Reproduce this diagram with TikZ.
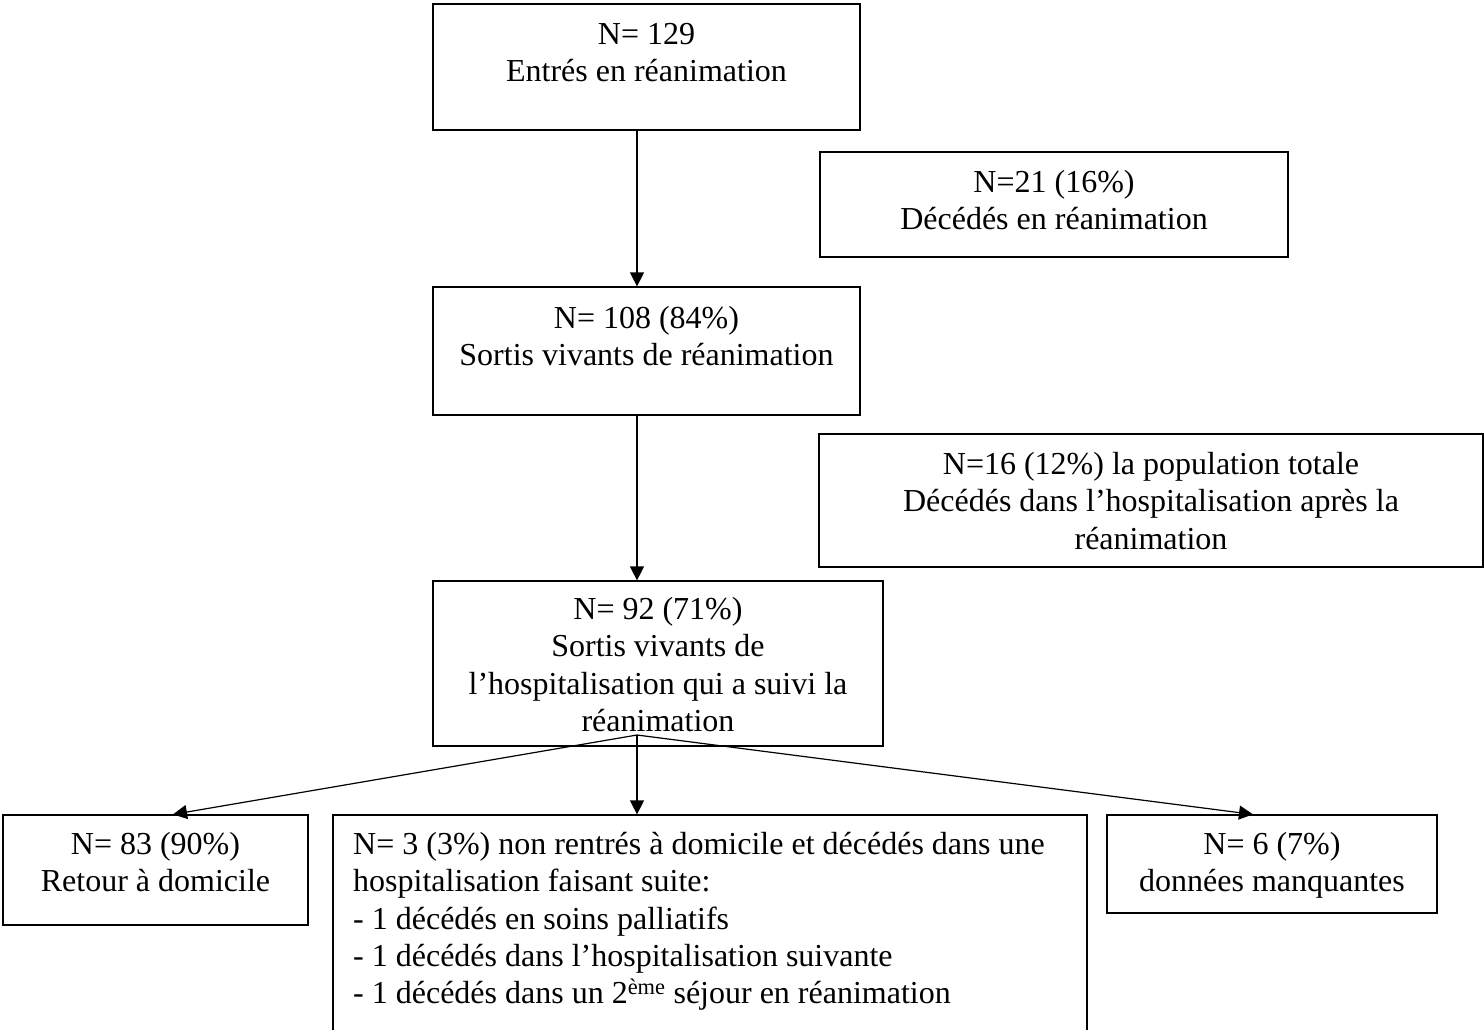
\documentclass[tikz,border=0pt]{standalone}
\usepackage{fontspec}
\setmainfont{Liberation Serif}
\usetikzlibrary{arrows.meta}
\begin{document}
\begin{tikzpicture}[x=1pt,y=-1pt,
  box/.style={draw=black, line width=1.2pt, inner sep=0pt, rectangle},
  txt/.style={font=\fontsize{32}{37.2}\selectfont, align=center, inner sep=0pt, anchor=north},
  arr/.style={line width=1.2pt, -{Triangle[length=14pt,width=14pt]}}]
\useasboundingbox (0,0) rectangle (1484,1030);
% boxes
\node[box, minimum width=427pt, minimum height=126pt] (b1) at (646.5,67) {};
\node[box, minimum width=468pt, minimum height=105pt] (b2) at (1054,204.5) {};
\node[box, minimum width=427pt, minimum height=128pt] (b3) at (646.5,351) {};
\node[box, minimum width=664pt, minimum height=133pt] (b4) at (1151,500.5) {};
\node[box, minimum width=450pt, minimum height=165pt] (b5) at (658,663.5) {};
\node[box, minimum width=305pt, minimum height=110pt] (b6) at (155.5,870) {};
\node[box, minimum width=754pt, minimum height=230pt] (b7) at (710,930) {};
\node[box, minimum width=330pt, minimum height=98pt] (b8) at (1272,864) {};
% texts
\node[txt] (t1) at (646.5,18.5) {\strut N= 129\\Entrés en réanimation};
\node[txt] (t2) at (1054,166.5) {\strut N=21 (16\%)\\Décédés en réanimation};
\node[txt] (t3) at (646.5,302.5) {\strut N= 108 (84\%)\\Sortis vivants de réanimation};
\node[txt] (t4) at (1151,448.5) {\strut N=16 (12\%) la population totale\\Décédés dans l’hospitalisation après la\\réanimation};
\node[txt] (t5) at (658,593.5) {\strut N= 92 (71\%)\\Sortis vivants de\\l’hospitalisation qui a suivi la\\réanimation};
\node[txt] (t6) at (155.5,828.5) {\strut N= 83 (90\%)\\Retour à domicile};
\node[txt, anchor=north west, align=left] (t7) at (353,828.5) {\strut N= 3 (3\%) non rentrés à domicile et décédés dans une\\hospitalisation faisant suite:\\- 1 décédés en soins palliatifs\\- 1 décédés dans l’hospitalisation suivante\\- 1 décédés dans un 2\textsuperscript{ème} séjour en réanimation};
\node[txt] (t8) at (1272,828.5) {\strut N= 6 (7\%)\\données manquantes};
% connectors
\coordinate (ax) at (637,0);
\coordinate (apex) at (637,735);
\coordinate (xl) at (173,0);
\coordinate (xr) at (1253,0);
\draw[arr] (b1.south -| ax) -- (b3.north -| ax);
\draw[arr] (b3.south -| ax) -- (b5.north -| ax);
\draw[arr] (apex) -- (b6.north -| xl);
\draw[arr] (apex) -- (b7.north -| ax);
\draw[arr] (apex) -- (b8.north -| xr);
\end{tikzpicture}
\end{document}
